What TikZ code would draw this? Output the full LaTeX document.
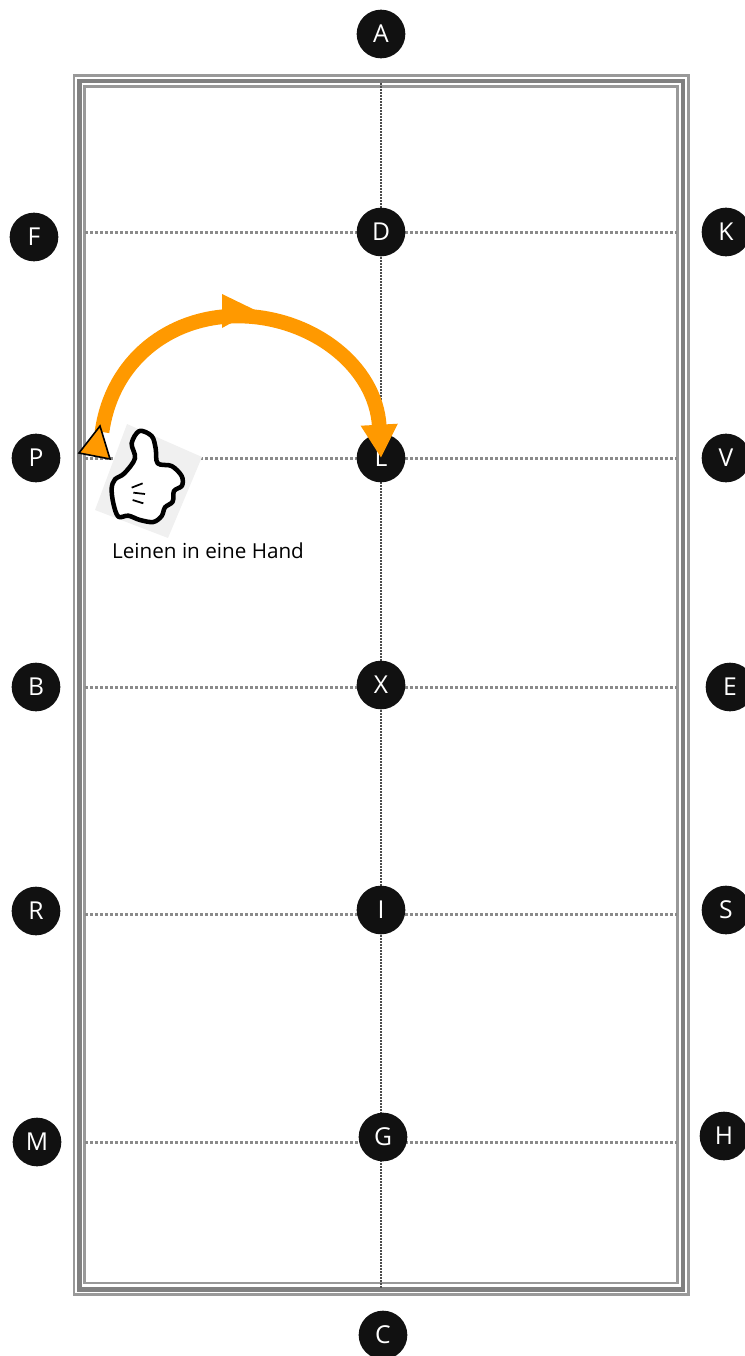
\documentclass[tikz,border=0pt]{standalone}
\usepackage{fontspec}
\setmainfont{Open Sans}
\usetikzlibrary{arrows.meta, positioning, calc}
\definecolor{MarkerBlack}{HTML}{111111}
\definecolor{FenceGray}{HTML}{999999}
\definecolor{FenceDark}{HTML}{808080}
\definecolor{CrossGray}{HTML}{8A8A8A}
\definecolor{RouteOrange}{HTML}{FF9900}
\tikzset{
    % Letter markers around and inside the arena
    marker/.style={
        circle,
        fill=MarkerBlack,
        text=white,
        minimum size=36.5pt,
        inner sep=0pt,
        font=\fontsize{18.5}{18.5}\selectfont
    },
    fence thin/.style={
        draw=FenceGray,
        line width=2pt
    },
    fence thick/.style={
        draw=FenceDark,
        line width=3.5pt
    },
    cross line/.style={
        draw=CrossGray,
        line width=2.25pt,
        dash pattern=on 2.25pt off 1.5pt
    },
    center line/.style={
        draw=black!70,
        line width=1.5pt,
        dash pattern=on 1.75pt off 0.5pt
    },
    route arrow/.style={
        -{Triangle[length=25pt,width=26pt]},
        draw=RouteOrange,
        line width=11pt
    }
}

\begin{document}
\begin{tikzpicture}[x=0.75pt, y=-0.75pt]
    \useasboundingbox (0,0) rectangle (745,1356);

    % Fence
    \draw[fence thin] (74,75.3) rectangle (688.6,1294.6);
    \draw[fence thick] (79.6,81) rectangle (683,1289.2);
    \draw[fence thin] (84.6,86.6) rectangle (677.3,1283);

    % Free ends of the lines
    \coordinate (top end) at (381,83);
    \coordinate (bottom end) at (381,1288);
    \coordinate (d left) at (85,232);
    \coordinate (d right) at (677,232);
    \coordinate (l left) at (85,458);
    \coordinate (l right) at (677,458);
    \coordinate (x left) at (85,687);
    \coordinate (x right) at (677,687);
    \coordinate (i left) at (85,914);
    \coordinate (i right) at (677,914);
    \coordinate (g left) at (85,1142);
    \coordinate (g right) at (677,1142);

    % Lines
    \draw[center line] (top end) -- (bottom end);
    \draw[cross line] (d left) -- (d right);
    \draw[cross line] (l left) -- (l right);
    \draw[cross line] (x left) -- (x right);
    \draw[cross line] (i left) -- (i right);
    \draw[cross line] (g left) -- (g right);

    % Markers
    \node[marker] (a) at (381,34) {A};
    \node[marker] (f) at (34,237) {F};
    \node[marker] (d) at (381,232) {D};
    \node[marker] (k) at (726,232) {K};
    \node[marker] (p) at (36,458) {P};
    \node[marker] (l) at (381,458) {L};
    \node[marker] (v) at (726,458) {V};
    \node[marker] (b) at (36,687) {B};
    \node[marker] (x) at (381,685) {X};
    \node[marker] (e) at (730,687) {E};
    \node[marker] (r) at (36,911) {R};
    \node[marker] (i) at (381,910) {I};
    \node[marker] (s) at (726,910) {S};
    \node[marker] (m) at (37,1142) {M};
    \node[marker] (g) at (383,1137) {G};
    \node[marker] (h) at (724,1136) {H};
    \node[marker] (c) at (383,1335) {C};

    % Thumb picture
    \fill[black!6] (127,424) -- (202,457) -- (168,538) -- (95,510) -- cycle;
    \begin{scope}[shift={(90,420)}, x=0.25pt, y=-0.25pt]
        \draw[line width=3.4pt, fill=white, line join=round]
            plot[smooth cycle, tension=0.55] coordinates {
                (148,33) (185,48) (197,85) (203,130) (245,138) (275,168)
                (276,197) (252,213) (248,245) (225,262) (215,288) (190,306)
                (150,300) (115,287) (85,290) (70,250) (65,205) (75,178)
                (103,160) (135,115) (125,70)};
        \draw[line width=1.3pt] (125,203) -- (158,190);
        \draw[line width=1.3pt] (130,218) -- (165,222);
        \draw[line width=1.3pt] (128,240) -- (160,250);
    \end{scope}

    % Text below the thumb
    \node[font=\fontsize{15.5}{15.5}\selectfont, inner sep=0pt] (hand text) at (208,551) {Leinen in eine Hand};

    % Route
    \coordinate (route start) at (102,432);
    \coordinate (route top) at (238,316);
    \draw[route arrow] (route start) .. controls (112,360) and (170,316) .. (route top)
        .. controls (310,316) and (376,365) .. (l.center);
    \fill[RouteOrange] (222,294) -- (255,310) -- (222,328) -- cycle;
    \draw[fill=RouteOrange, line width=1.2pt, line join=miter] (100,426) -- (79,453) -- (110,459) -- cycle;
\end{tikzpicture}
\end{document}
